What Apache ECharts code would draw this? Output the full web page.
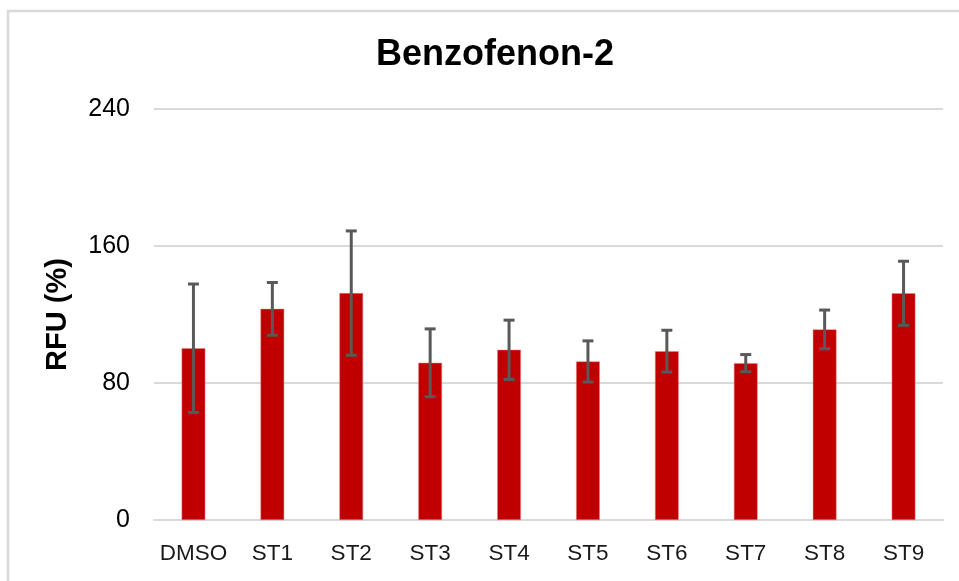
<!DOCTYPE html>
<html>
<head>
<meta charset="utf-8">
<script src="https://cdn.jsdelivr.net/npm/echarts@6/dist/echarts.min.js"></script>
<style>
  html, body { margin: 0; padding: 0; background: #fff; }
  #chart { width: 959px; height: 581px; }
</style>
</head>
<body>
<div id="chart"></div>
<script>
// datos
const categorias = ['DMSO', 'ST1', 'ST2', 'ST3', 'ST4', 'ST5', 'ST6', 'ST7', 'ST8', 'ST9'];
const medias = [100.3, 123.3, 132.5, 91.8, 99.4, 92.6, 98.6, 91.6, 111.3, 132.4];
const errores = [37.5, 15.4, 36.3, 19.8, 17.3, 12.0, 12.2, 5.0, 11.3, 18.7];
const ticksY = [0, 80, 160, 240];

const chart = echarts.init(document.getElementById('chart'));

// barras de error: [indice, bajo, alto]
const datosError = medias.map((m, i) => [i, m - errores[i], m + errores[i]]);

const option = {
    animation: false,
    title: {
        text: 'Benzofenon-2',
        left: 490,
        textAlign: 'center',
        top: 32,
        textStyle: { fontFamily: 'Liberation Sans, Arial', fontWeight: 'bold', fontSize: 36, color: '#000' }
    },
    graphic: [{
        type: 'rect',
        shape: { x: 8, y: 11, width: 1000, height: 1000 },
        style: { fill: 'none', stroke: '#d9d9d9', lineWidth: 2.5 },
        silent: true
    }],
    grid: { left: 154, right: 16, top: 109, bottom: 61 },
    xAxis: {
        type: 'category',
        data: categorias,
        axisTick: { show: false },
        axisLine: { lineStyle: { color: '#d9d9d9', width: 2 } },
        axisLabel: {
            interval: 0,
            margin: 22,
            fontSize: 22.5,
            color: '#1a1a1a',
            fontFamily: 'Liberation Sans, Arial'
        }
    },
    yAxis: {
        type: 'value',
        min: ticksY[0],
        max: ticksY[ticksY.length - 1],
        interval: 80,
        name: 'RFU (%)',
        nameLocation: 'middle',
        nameGap: 82,
        nameTextStyle: { fontFamily: 'Liberation Sans, Arial', fontWeight: 'bold', fontSize: 29, color: '#000' },
        axisLine: { show: false },
        axisTick: { show: false },
        axisLabel: { margin: 24, fontSize: 25, color: '#000', fontFamily: 'Liberation Sans, Arial' },
        splitLine: { lineStyle: { color: '#d9d9d9', width: 2 } }
    },
    series: [
        {
            type: 'bar',
            data: medias,
            barWidth: '30%',
            itemStyle: { color: '#c00000', borderColor: '#e88080', borderWidth: 0.5 }
        },
        {
            type: 'custom',
            data: datosError,
            z: 10,
            renderItem: (params, api) => {
                const x = api.value(0);
                const bajo = api.coord([x, api.value(1)]);
                const alto = api.coord([x, api.value(2)]);
                const w = 5.5;
                const estilo = { stroke: '#595959', lineWidth: 3 };
                return {
                    type: 'group',
                    children: [
                        { type: 'line', shape: { x1: alto[0], y1: alto[1], x2: bajo[0], y2: bajo[1] }, style: estilo },
                        { type: 'line', shape: { x1: alto[0] - w, y1: alto[1], x2: alto[0] + w, y2: alto[1] }, style: estilo },
                        { type: 'line', shape: { x1: bajo[0] - w, y1: bajo[1], x2: bajo[0] + w, y2: bajo[1] }, style: estilo }
                    ]
                };
            }
        }
    ]
};

chart.setOption(option);
</script>
</body>
</html>
